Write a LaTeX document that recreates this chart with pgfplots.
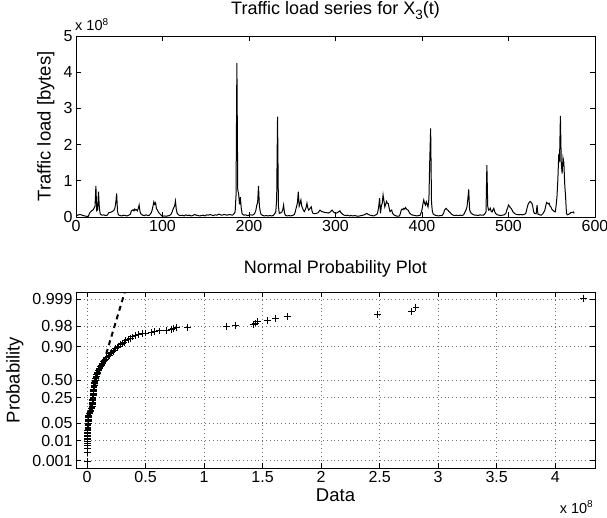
\documentclass[border=0pt]{standalone}
\usepackage{pgfplots}
\pgfplotsset{compat=1.18}
\usepackage{fontspec}
\setmainfont{Liberation Sans}
\definecolor{mgreen}{rgb}{0,0.6,0}
\pgfplotsset{
  every tick/.style={black, line width=0.6pt},
}
\begin{document}
\begin{tikzpicture}
\useasboundingbox (0,0) rectangle (607pt,517pt);
% ---------------- top: time series ----------------
\begin{axis}[
  name=top,
  at={(76pt,300pt)}, anchor=south west, scale only axis,
  width=519pt, height=181pt,
  xmin=0, xmax=600, ymin=0, ymax=5,
  xtick={0,100,200,300,400,500,600}, xticklabels={0,100,200,300,400,500,600},
  ytick={0,1,2,3,4,5}, yticklabels={0,1,2,3,4,5},
  tick align=inside, major tick length=5pt,
  ticklabel style={font=\fontsize{16}{18}\selectfont},
  axis line style={line width=0.8pt},
  ylabel={Traffic load [bytes]},
  ylabel style={at={(axis description cs:-0.058,0.5)}, anchor=center, font=\fontsize{18.5}{20}\selectfont},
  title={Traffic load series for X\raisebox{-0.45ex}{\fontsize{13.5}{13}\selectfont 3}(t)},
  title style={at={(axis description cs:0.5,1)}, anchor=base, yshift=15pt, font=\fontsize{18}{20}\selectfont},
]
\addplot[black, line width=1pt] coordinates {
(0,0.03) (2,0.05) (4,0.07) (6,0.06) (8,0.04) (10,0.03) (12,0.02) (14,0.01) (16,0.12) (18,0.17)
(20,0.2) (21,0.25) (22,0.3) (23,0.86) (24,0.17) (25,0.2) (26,0.70) (27,0.25) (28,0.08) (30,0.05)
(32,0.06) (34,0.04) (36,0.05) (38,0.12) (40,0.13) (42,0.15) (44,0.19) (45,0.25) (46,0.40) (47,0.65)
(48,0.15) (49,0.06) (51,0.04) (53,0.03) (55,0.05) (57,0.04) (59,0.03) (61,0.05) (63,0.08) (64,0.17)
(66,0.2) (67,0.17) (68,0.22) (69,0.19) (70,0.2) (71,0.17) (72,0.24) (73,0.33) (74,0.15) (75,0.09)
(77,0.05) (79,0.04) (81,0.06) (83,0.04) (85,0.05) (87,0.12) (88,0.19) (89,0.3) (90,0.42) (91,0.35)
(92,0.39) (93,0.23) (94,0.2) (95,0.15) (96,0.11) (98,0.06) (100,0.02) (102,0.03) (104,0.02) (106,0.03)
(108,0.04) (110,0.08) (111,0.13) (112,0.2) (113,0.26) (114,0.3) (115,0.44) (116,0.2) (117,0.1) (119,0.05)
(121,0.04) (123,0.05) (125,0.03) (127,0.06) (129,0.04) (131,0.05) (133,0.03) (135,0.04) (137,0.07) (139,0.05)
(141,0.04) (143,0.03) (145,0.04) (147,0.05) (149,0.03) (151,0.06) (153,0.05) (155,0.07) (157,0.05) (159,0.04)
(161,0.06) (163,0.05) (165,0.08) (167,0.06) (169,0.05) (171,0.07) (173,0.06) (175,0.05) (177,0.07) (179,0.06)
(181,0.05) (183,0.1) (184,0.15) (185,0.6) (186,4.25) (187,0.74) (188,0.65) (189,0.35) (190,0.55) (191,0.25)
(192,0.09) (194,0.05) (196,0.06) (198,0.04) (200,0.05) (202,0.06) (204,0.05) (206,0.08) (207,0.12) (208,0.19)
(209,0.33) (210,0.4) (211,0.86) (212,0.3) (213,0.15) (214,0.07) (216,0.04) (218,0.03) (220,0.04) (222,0.03)
(224,0.04) (226,0.03) (228,0.04) (230,0.1) (231,0.15) (232,0.5) (233,2.77) (234,0.3) (235,0.1) (236,0.11)
(237,0.12) (238,0.14) (239,0.2) (240,0.33) (241,0.12) (242,0.05) (244,0.03) (246,0.04) (248,0.03) (250,0.04)
(252,0.06) (253,0.1) (254,0.2) (255,0.29) (256,0.4) (257,0.70) (258,0.3) (259,0.38) (260,0.47) (261,0.3)
(262,0.24) (263,0.18) (264,0.15) (265,0.2) (266,0.26) (267,0.38) (268,0.25) (269,0.19) (270,0.22) (271,0.25)
(272,0.28) (273,0.15) (274,0.1) (276,0.09) (278,0.1) (280,0.12) (282,0.19) (284,0.15) (286,0.14) (288,0.12)
(290,0.12) (292,0.11) (294,0.14) (296,0.19) (298,0.13) (300,0.1) (302,0.12) (304,0.15) (305,0.17) (306,0.13)
(308,0.08) (310,0.05) (312,0.04) (314,0.05) (316,0.03) (318,0.04) (320,0.03) (322,0.04) (324,0.03) (326,0.02)
(328,0.03) (330,0.04) (332,0.05) (334,0.07) (336,0.1) (338,0.07) (340,0.05) (342,0.04) (344,0.03) (346,0.05)
(348,0.08) (349,0.15) (350,0.3) (351,0.52) (352,0.1) (353,0.3) (354,0.38) (355,0.61) (356,0.45) (357,0.28)
(358,0.35) (359,0.43) (360,0.38) (361,0.37) (362,0.25) (363,0.15) (364,0.17) (365,0.19) (366,0.1) (368,0.05)
(370,0.03) (372,0.02) (374,0.03) (375,0.1) (376,0.19) (377,0.22) (378,0.2) (379,0.24) (380,0.22) (381,0.26)
(382,0.22) (383,0.2) (384,0.19) (385,0.14) (386,0.1) (388,0.06) (390,0.05) (392,0.04) (394,0.03) (396,0.04)
(398,0.05) (399,0.12) (400,0.2) (401,0.35) (402,0.47) (403,0.38) (404,0.33) (405,0.42) (406,0.35) (407,0.28)
(408,0.5) (409,1.6) (410,2.45) (411,0.4) (412,0.15) (413,0.08) (415,0.05) (417,0.04) (419,0.03) (421,0.04)
(423,0.04) (425,0.1) (426,0.19) (427,0.22) (428,0.24) (429,0.2) (430,0.19) (431,0.15) (432,0.14) (434,0.08)
(436,0.05) (438,0.04) (440,0.05) (442,0.04) (444,0.05) (446,0.04) (448,0.06) (450,0.15) (451,0.2) (452,0.28)
(453,0.5) (454,0.76) (455,0.2) (456,0.14) (457,0.1) (459,0.07) (461,0.05) (463,0.05) (465,0.04) (467,0.06)
(469,0.05) (471,0.05) (473,0.1) (474,0.15) (475,1.43) (476,0.3) (477,0.19) (478,0.2) (479,0.24) (480,0.15)
(481,0.14) (482,0.2) (483,0.24) (484,0.15) (485,0.1) (487,0.06) (489,0.05) (491,0.04) (493,0.05) (495,0.06)
(497,0.1) (498,0.19) (499,0.25) (500,0.33) (501,0.3) (502,0.26) (503,0.24) (504,0.2) (505,0.15) (506,0.12)
(508,0.08) (510,0.07) (512,0.06) (514,0.07) (516,0.06) (518,0.07) (520,0.1) (521,0.2) (522,0.3) (523,0.37)
(524,0.4) (525,0.43) (526,0.41) (527,0.38) (528,0.3) (529,0.15) (530,0.1) (532,0.09) (533,0.33) (534,0.08)
(536,0.06) (538,0.05) (540,0.1) (542,0.19) (543,0.3) (544,0.4) (545,0.38) (546,0.36) (547,0.38) (548,0.3)
(549,0.28) (550,0.22) (551,0.19) (552,0.17) (553,0.15) (554,0.14) (555,0.3) (556,0.55) (557,1.0) (558,1.67)
(559,1.58) (560,2.79) (561,1.49) (562,1.2) (563,1.63) (564,1.5) (565,0.9) (566,0.56) (567,0.1) (568,0.06)
(569,0.07) (570,0.08) (572,0.12) (574,0.13) (575,0.14) (576,0.1)
};
\end{axis}
\node[anchor=base west, inner sep=0pt, font=\fontsize{14.5}{16}\selectfont] at ([xshift=-1pt, yshift=5pt]top.north west) {x 10\raisebox{0.75ex}{\fontsize{10}{10}\selectfont 8}};
% ---------------- bottom: normal probability plot ----------------
\begin{axis}[
  name=bot,
  at={(76pt,49pt)}, anchor=south west, scale only axis,
  width=519pt, height=176pt,
  xmin=-0.094, xmax=4.34, ymin=-3.37, ymax=3.37,
  xtick={0,0.5,1,1.5,2,2.5,3,3.5,4}, xticklabels={0,0.5,1,1.5,2,2.5,3,3.5,4},
  ytick={-3.0902,-2.3263,-1.6449,-0.6745,0,1.2816,2.0537,3.0902},
  yticklabels={0.001,0.01,0.05,0.25,0.50,0.90,0.98,0.999},
  tick align=inside, major tick length=5pt,
  ticklabel style={font=\fontsize{16}{18}\selectfont},
  axis line style={line width=0.8pt},
  grid=major, grid style={black!55, line width=0.5pt, dash pattern=on 0.8pt off 3pt},
  xlabel={Data},
  xlabel style={at={(axis description cs:0.5,0)}, anchor=base, yshift=-33pt, font=\fontsize{18.5}{20}\selectfont},
  ylabel={Probability},
  ylabel style={at={(axis description cs:-0.118,0.5)}, anchor=center, font=\fontsize{18.5}{20}\selectfont},
  title={Normal Probability Plot},
  title style={at={(axis description cs:0.5,1)}, anchor=base, yshift=13pt, font=\fontsize{18}{20}\selectfont},
]
\addplot[only marks, mark=+, mark size=3.4pt, black, mark options={line width=0.9pt}] coordinates {
(0.002,-3.13) (0.003,-2.79) (0.003,-2.62) (0.004,-2.51) (0.004,-2.42) (0.005,-2.34) (0.005,-2.28) (0.006,-2.23)
(0.006,-2.18) (0.006,-2.13) (0.007,-2.05) (0.007,-2.0) (0.007,-1.95) (0.008,-1.9) (0.008,-1.85) (0.008,-1.8)
(0.009,-1.75) (0.009,-1.7) (0.01,-1.65) (0.01,-1.6) (0.011,-1.55) (0.012,-1.5) (0.013,-1.45) (0.014,-1.4)
(0.016,-1.35) (0.02,-1.3) (0.025,-1.25) (0.03,-1.2) (0.035,-1.15) (0.039,-1.1) (0.042,-1.05) (0.044,-1.0)
(0.046,-0.95) (0.047,-0.9) (0.048,-0.85) (0.049,-0.8) (0.05,-0.75) (0.051,-0.7) (0.052,-0.65) (0.053,-0.6)
(0.054,-0.55) (0.055,-0.5) (0.056,-0.45) (0.057,-0.4) (0.058,-0.35) (0.059,-0.3) (0.06,-0.25) (0.062,-0.2)
(0.064,-0.15) (0.066,-0.1) (0.068,-0.05) (0.071,0) (0.074,0.05) (0.077,0.1) (0.08,0.15) (0.084,0.2)
(0.088,0.25) (0.092,0.3) (0.097,0.35) (0.102,0.4) (0.108,0.45) (0.114,0.5) (0.121,0.55) (0.128,0.6)
(0.135,0.65) (0.143,0.7) (0.151,0.75) (0.16,0.8) (0.169,0.85) (0.179,0.9) (0.189,0.95) (0.2,1.0)
(0.211,1.05) (0.222,1.1) (0.234,1.15) (0.246,1.2) (0.259,1.25) (0.272,1.3) (0.286,1.35) (0.30,1.4)
(0.316,1.45) (0.332,1.5) (0.35,1.55) (0.37,1.6) (0.392,1.65) (0.415,1.7) (0.44,1.74) (0.47,1.77)
(0.50,1.8) (0.55,1.83) (0.58,1.86) (0.62,1.88) (0.68,1.91) (0.72,1.94) (0.74,1.97) (0.765,2.0)
(0.857,2.02) (1.19,2.055) (1.27,2.09) (1.42,2.13) (1.44,2.18) (1.46,2.23) (1.54,2.28) (1.61,2.35)
(1.71,2.42) (2.48,2.51) (2.775,2.63) (2.81,2.79) (4.24,3.13)
};
\addplot[black, line width=2pt, dash pattern=on 5pt off 4pt] coordinates {(0.0,-1.448) (0.052,-0.674)};
\addplot[black, line width=2pt, dash pattern=on 5pt off 4pt] coordinates {(0.142,0.674) (0.323,3.37)};
\addplot[mgreen, line width=0.7pt, dash pattern=on 3pt off 3pt] coordinates {(0.052,-0.674) (0.142,0.674)};
\end{axis}
\node[anchor=base east, inner sep=0pt, font=\fontsize{14.5}{16}\selectfont] at ([xshift=-2pt, yshift=-45pt]bot.south east) {x 10\raisebox{0.75ex}{\fontsize{10}{10}\selectfont 8}};
\end{tikzpicture}
\end{document}
